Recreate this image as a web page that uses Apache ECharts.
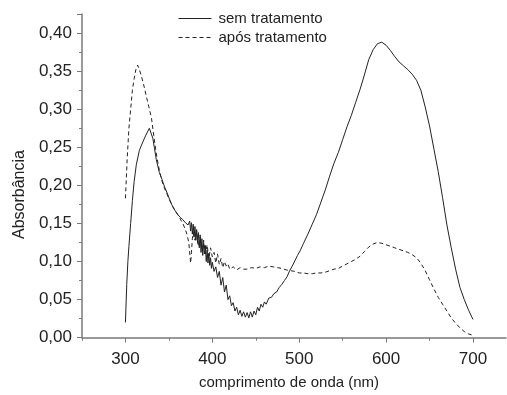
<!DOCTYPE html>
<html><head><meta charset="utf-8">
<script src="https://cdn.jsdelivr.net/npm/echarts@6/dist/echarts.min.js"></script>
<style>html,body{margin:0;padding:0;background:#fff}#c{width:507px;height:395px}</style>
</head><body><div id="c"></div>
<script>
var xTicks = [300, 400, 500, 600, 700];
var xMinorTicks = [250, 350, 450, 550, 650];
var yTicks = ['0,00','0,05','0,10','0,15','0,20','0,25','0,30','0,35','0,40'];
var seriesNames = ['sem tratamento', 'após tratamento'];
var semX = [300,301.5,302.8,304,306,308,310,312.5,316,320,323.5,327.5,329.5,331.5,333.5,335.5,339,342,345,348,351,354,357,360,363,366,369,372,374,375,376,377,378,379,380,381,382,383,384,385,386,387,388,389,390,391,392,393,394,395,396,397,398,399,400,402,404,406,408,410,412,414,416,418,420,422,424,426,428,430,432,434,436,438,440,442,444,446,448,450,452,454,456,458,460,462,465,468,471,474,477,480,483,486,489,492,495,498,501,505,510,515,520,525,530,535,540,545,550,555,560,565,570,575,580,585,590,595,600,605,610,615,620,625,630,635,640,645,650,655,660,665,670,675,680,685,690,695,700];
var semY = [0.020,0.070,0.100,0.120,0.150,0.180,0.205,0.227,0.246,0.257,0.266,0.275,0.274,0.262,0.248,0.234,0.217,0.208,0.198,0.190,0.181,0.173,0.167,0.162,0.158,0.155,0.151,0.148,0.153,0.140,0.151,0.136,0.149,0.132,0.146,0.128,0.142,0.124,0.138,0.118,0.135,0.112,0.130,0.108,0.125,0.110,0.121,0.100,0.115,0.098,0.111,0.095,0.105,0.091,0.099,0.087,0.093,0.079,0.087,0.069,0.079,0.060,0.069,0.050,0.055,0.042,0.046,0.035,0.040,0.030,0.036,0.028,0.034,0.027,0.033,0.026,0.034,0.027,0.035,0.030,0.040,0.035,0.044,0.040,0.047,0.044,0.052,0.053,0.058,0.060,0.066,0.070,0.075,0.080,0.088,0.094,0.101,0.108,0.114,0.124,0.136,0.149,0.162,0.178,0.194,0.212,0.229,0.243,0.260,0.277,0.292,0.309,0.326,0.345,0.365,0.378,0.386,0.388,0.384,0.377,0.369,0.362,0.357,0.352,0.346,0.338,0.325,0.303,0.278,0.248,0.218,0.184,0.148,0.118,0.090,0.066,0.050,0.036,0.024];
var aposX = [300,302,304,306,308,310,312,314,316,318,321,324,327,330,333,336,339,342,345,348,351,354,357,360,363,366,369,371,373,375,376,377,378,380,382,384,386,388,390,392,394,396,398,400,402,404,406,408,410,412,414,416,418,420,424,428,432,436,440,445,450,455,460,465,470,475,480,485,490,495,500,505,510,515,520,525,530,535,540,545,550,555,560,565,570,575,580,585,590,595,600,605,610,615,620,625,630,635,640,645,650,655,660,665,670,675,680,685,690,695,700];
var aposY = [0.183,0.235,0.275,0.300,0.325,0.340,0.352,0.358,0.352,0.345,0.332,0.317,0.303,0.288,0.262,0.238,0.220,0.206,0.196,0.188,0.180,0.173,0.167,0.162,0.156,0.150,0.142,0.135,0.124,0.098,0.112,0.130,0.138,0.128,0.140,0.120,0.132,0.115,0.128,0.110,0.122,0.104,0.118,0.106,0.112,0.098,0.110,0.096,0.104,0.092,0.100,0.094,0.097,0.090,0.093,0.089,0.092,0.090,0.090,0.092,0.091,0.093,0.092,0.094,0.093,0.092,0.091,0.089,0.088,0.087,0.085,0.085,0.084,0.084,0.085,0.085,0.086,0.088,0.090,0.091,0.094,0.097,0.100,0.103,0.107,0.113,0.119,0.123,0.125,0.124,0.122,0.120,0.118,0.116,0.114,0.112,0.109,0.105,0.098,0.088,0.076,0.064,0.053,0.044,0.035,0.026,0.019,0.013,0.008,0.005,0.003];

function pairs(xs, ys){ var out=[]; for(var i=0;i<xs.length;i++) out.push([xs[i], ys[i]]); return out; }

var FONT = 'Liberation Sans, Arial, sans-serif';
var AX = '#7a7a7a';
var chart = echarts.init(document.getElementById('c'), null, {renderer:'canvas'});
chart.setOption({
  animation:false,
  backgroundColor:'#fff',
  grid:{left:82, right:1, top:14, bottom:57.3, containLabel:false},
  legend:{
    orient:'vertical', left:173, top:6, itemWidth:33, itemHeight:14, itemGap:4,
    textStyle:{fontFamily:FONT, fontSize:15, color:'#222', padding:[0,0,0,2]},
    itemStyle:{opacity:0},
    lineStyle:{width:1},
    data:[seriesNames[0], seriesNames[1]]
  },
  xAxis:[{
    type:'value', min:250, max:738,
    axisLine:{lineStyle:{color:AX, width:1.5}},
    axisTick:{show:true, inside:false, length:5, customValues:xTicks, lineStyle:{color:AX, width:1}},
    splitLine:{show:false},
    axisLabel:{fontFamily:FONT, fontSize:17, color:'#222', margin:13, customValues:xTicks}
  },{
    type:'value', min:250, max:738, position:'bottom',
    axisLine:{show:false},
    axisTick:{show:true, inside:false, length:3, customValues:xMinorTicks, lineStyle:{color:AX, width:1}},
    splitLine:{show:false},
    axisLabel:{show:false}
  }],
  yAxis:{
    type:'value', min:0, max:0.425, interval:0.05,
    axisLine:{show:true, lineStyle:{color:AX, width:1.5}},
    axisTick:{show:true, inside:false, length:5, lineStyle:{color:AX, width:1}},
    minorTick:{show:true, splitNumber:2, length:3, lineStyle:{color:AX}},
    splitLine:{show:false},
    axisLabel:{fontFamily:FONT, fontSize:17, color:'#222', margin:10,
      formatter:function(v){ var i=Math.round(v/0.05); return (Math.abs(v-i*0.05)<1e-6 && yTicks[i]) ? yTicks[i] : ''; }}
  },
  graphic:[
    {type:'text', top:375, left:199, style:{text:'comprimento de onda (nm)', fontFamily:FONT, fontSize:15, fill:'#222'}},
    {type:'text', rotation:Math.PI/2, x:12, y:239, style:{text:'Absorbância', fontFamily:FONT, fontSize:16, fill:'#222', align:'left', verticalAlign:'top'}}
  ],
  series:[
    {name:seriesNames[0], type:'line', data:pairs(semX, semY), symbol:'none', showSymbol:false,
     lineStyle:{color:'#222', width:1}, itemStyle:{color:'#222'}},
    {name:seriesNames[1], type:'line', data:pairs(aposX, aposY), symbol:'none', showSymbol:false,
     lineStyle:{color:'#222', width:1, type:[4,3]}, itemStyle:{color:'#222'}}
  ]
});
</script></body></html>
